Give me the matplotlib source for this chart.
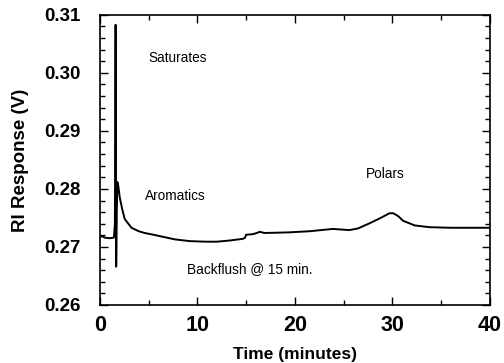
import numpy as np
import matplotlib.pyplot as plt
from matplotlib.ticker import MultipleLocator

# trace (time in min, RI response in V)
time_min = [0.0, 0.2, 0.5, 1.0, 1.45, 1.55, 1.62, 1.68, 1.74, 1.8, 1.9, 2.05, 2.3,
            2.56, 3.25, 4.0, 4.6, 5.5, 6.3, 7.7, 9.2, 10.9, 12.0, 13.3, 14.7,
            14.9, 15.0, 15.7, 16.1, 16.4, 16.9, 19.3, 21.5, 23.9, 25.6, 26.5,
            27.7, 28.8, 29.7, 30.1, 30.6, 31.1, 32.3, 33.8, 36.0, 40.0]
response = [0.2716, 0.2719, 0.2716, 0.2715, 0.2716, 0.2740, 0.3083, 0.2666, 0.2760,
            0.2812, 0.2805, 0.2785, 0.2765, 0.2748, 0.2733, 0.2727, 0.2724,
            0.2721, 0.2718, 0.2713, 0.2710, 0.2709, 0.2709, 0.2711, 0.2714,
            0.2716, 0.2721, 0.2722, 0.2724, 0.2726, 0.2724, 0.2725, 0.2727,
            0.2731, 0.2729, 0.2732, 0.2741, 0.2750, 0.2758, 0.2758, 0.2753,
            0.2745, 0.2737, 0.2734, 0.2733, 0.2733]

x_ticks = [0, 10, 20, 30, 40]
y_ticks = [0.26, 0.27, 0.28, 0.29, 0.30, 0.31]

labels = ["Saturates", "Aromatics", "Polars", "Backflush @ 15 min."]
label_pos = [(5.0, 0.3026), (4.6, 0.2788), (27.3, 0.2826), (8.9, 0.2662)]

plt.rcParams['font.family'] = ['Liberation Sans', 'DejaVu Sans']

fig = plt.figure(figsize=(5.04, 3.63), dpi=100)
ax = fig.add_axes([0.198, 0.160, 0.774, 0.799])

ax.plot(time_min, response, color='black', lw=1.4)

ax.set_xlim(0, 40)
ax.set_ylim(0.26, 0.31)
ax.set_xticks(x_ticks)
ax.set_yticks(y_ticks)
ax.set_xticklabels([str(v) for v in x_ticks], fontsize=15.5, fontweight='bold')
ax.set_yticklabels(["%.2f" % v for v in y_ticks], fontsize=13.5, fontweight='bold')
ax.xaxis.set_minor_locator(MultipleLocator(5))
ax.yaxis.set_minor_locator(MultipleLocator(0.002))
ax.tick_params(which='both', direction='in', top=True, right=True, width=1.0)
ax.tick_params(which='major', length=6)
ax.tick_params(axis='y', which='major', pad=14)
ax.tick_params(axis='x', which='major', pad=7)
ax.tick_params(which='minor', length=3.5)
for s in ax.spines.values():
    s.set_linewidth(1.2)

ax.set_xlabel("Time (minutes)", fontsize=12.5, fontweight='bold', labelpad=8)
ax.set_ylabel("RI Response (V)", fontsize=13.5, fontweight='bold', labelpad=11)

for txt, (tx, ty) in zip(labels, label_pos):
    ax.text(tx, ty, txt, fontsize=9.8, ha='left', va='center')

fig.savefig("out.png", dpi=100)
